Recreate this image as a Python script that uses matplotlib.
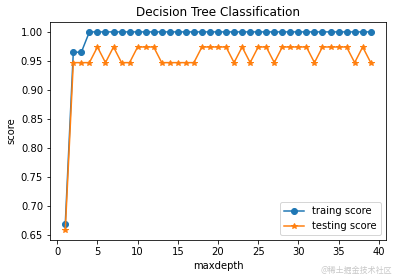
import matplotlib
matplotlib.use('Agg')
import matplotlib.pyplot as plt

depth = list(range(1, 40))
train_score = [0.669, 0.965, 0.965] + [1.0] * 36
test_up = [5, 7, 10, 11, 12, 18, 19, 20, 21, 23, 25, 26, 28, 29, 30, 31, 33, 34, 35, 36, 38]
test_score = [0.658] + [0.974 if d in test_up else 0.947 for d in depth[1:]]

fig = plt.figure(figsize=(395 / 72, 278 / 72), dpi=72)
ax = fig.add_axes([50 / 395, 1 - 240 / 278, 336 / 395, 218 / 278])

ax.plot(depth, train_score, 'o-', label='traing score')
ax.plot(depth, test_score, '*-', label='testing score')
ax.set_title('Decision Tree Classification')
ax.set_xlabel('maxdepth')
ax.set_ylabel('score')
ax.legend(loc='lower right')

fig.text(0.993, 0.012, '@稀土掘金技术社区', ha='right', va='bottom', fontsize=8,
         color='#c8c8c8', family=['Noto Sans CJK SC', 'DejaVu Sans'])

fig.savefig('out.png', dpi=72)
